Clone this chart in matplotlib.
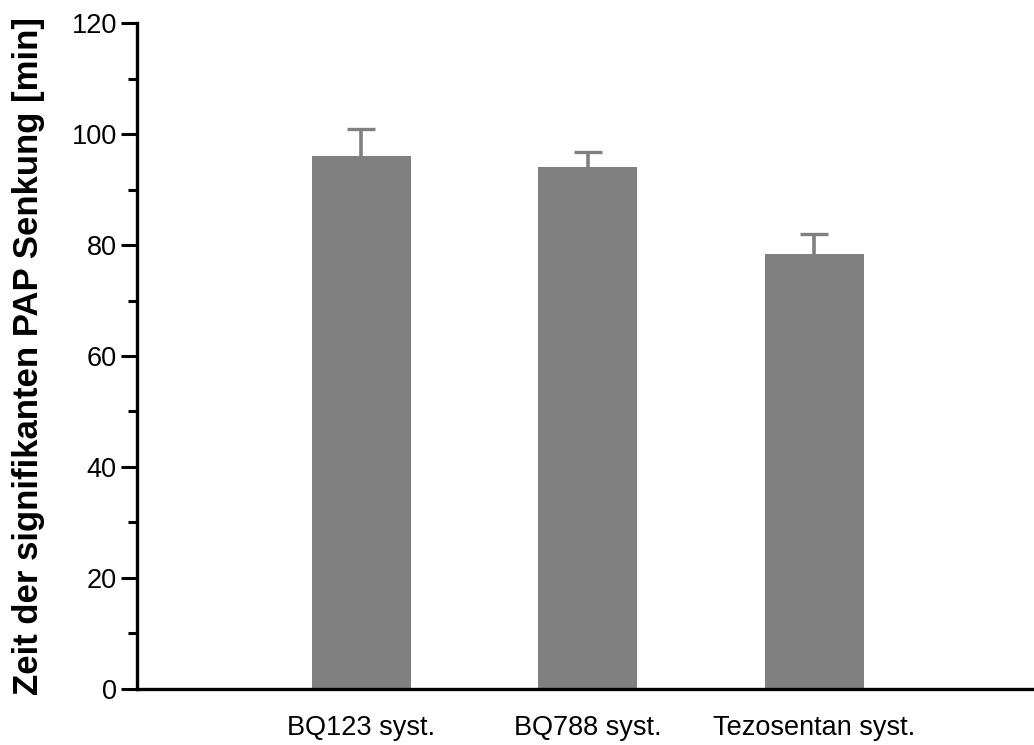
import matplotlib
matplotlib.use("Agg")
import matplotlib.pyplot as plt
from matplotlib.ticker import MultipleLocator

plt.rcParams['font.family'] = ['Liberation Sans', 'DejaVu Sans']

# Mean time to significant PAP decrease and its SEM per treatment
groups = ['BQ123 syst.', 'BQ788 syst.', 'Tezosentan syst.']
means = [96.0, 94.1, 78.4]
sem = [4.9, 2.7, 3.6]

fig = plt.figure(figsize=(10.34, 7.45), dpi=100)
ax = fig.add_axes([0.1325, 0.0752, 0.8675, 0.8939])

x = list(range(len(groups)))
ax.bar(x, means, width=0.437, color='#808080', zorder=2)
eb = ax.errorbar(x, means, yerr=[[0] * len(sem), sem], fmt='none', ecolor='#808080',
                 elinewidth=2.6, capsize=10, capthick=2.4, zorder=1)
# only the upper cap is wanted
for cap in eb.lines[1]:
    if list(cap.get_ydata()) == means:
        cap.set_visible(False)

ax.set_xlim(-0.99, 2.97)
ax.set_ylim(0, 120)
ax.yaxis.set_major_locator(MultipleLocator(20))
ax.yaxis.set_minor_locator(MultipleLocator(10))

ax.set_xticks(x)
ax.set_xticklabels(groups, fontsize=19.5)
ax.tick_params(axis='x', length=0, pad=19)
ax.tick_params(axis='y', which='major', length=11.5, width=2.2, labelsize=19.5, pad=3)
ax.tick_params(axis='y', which='minor', length=6.5, width=2.2)

for side in ['top', 'right']:
    ax.spines[side].set_visible(False)
for side in ['left', 'bottom']:
    ax.spines[side].set_linewidth(2.4)

ax.set_ylabel('Zeit der signifikanten PAP Senkung [min]', fontsize=25,
              fontweight='bold', labelpad=19)

fig.savefig('out.png', dpi=100)
